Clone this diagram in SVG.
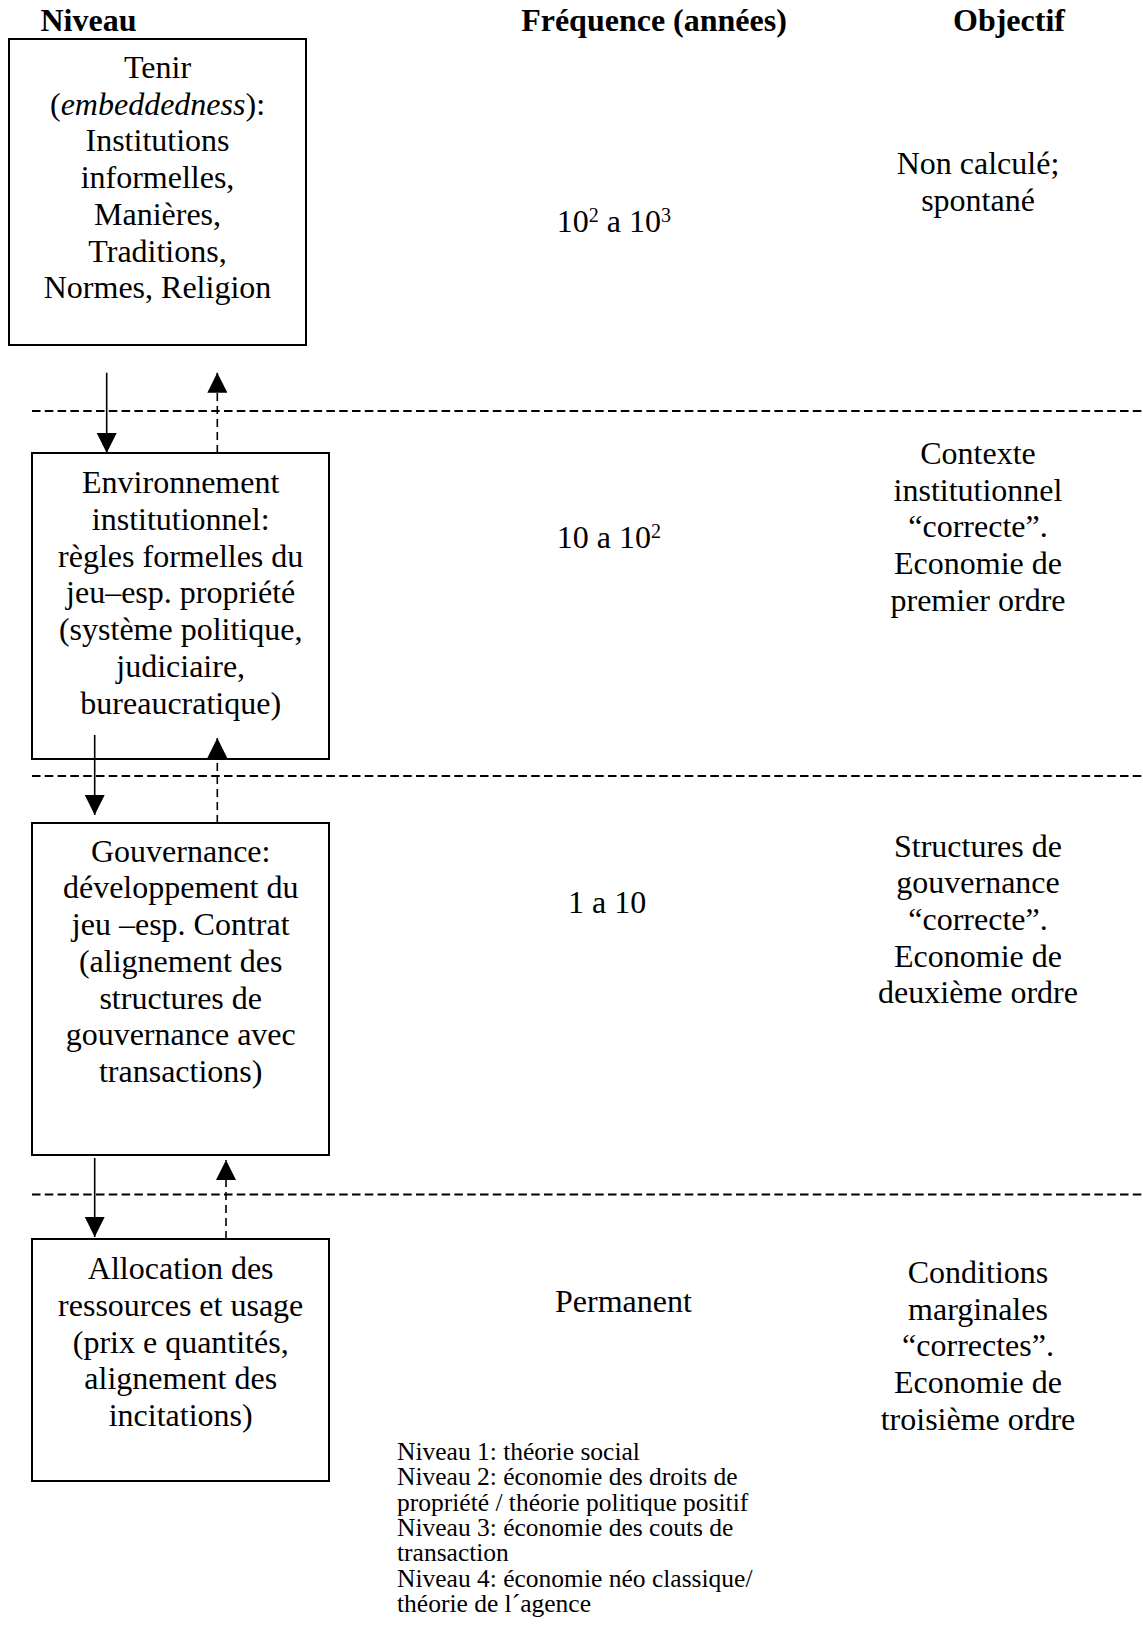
<svg xmlns="http://www.w3.org/2000/svg" width="1143" height="1652" viewBox="0 0 1143 1652">
<defs>
<style>
text{font-family:"Liberation Serif","Times New Roman",serif;fill:#000;}
.t{font-size:32px;text-anchor:middle;}
.h{font-size:32px;font-weight:bold;text-anchor:middle;}
.m{font-size:32px;}
.f{font-size:25.5px;}
.box{fill:#fff;stroke:#000;stroke-width:2;}
.sep{stroke:#000;stroke-width:2;stroke-dasharray:8.5 4.3;fill:none;}
.solid{stroke:#000;stroke-width:1.6;fill:none;}
.dash{stroke:#000;stroke-width:1.6;stroke-dasharray:8 5;fill:none;}
</style>
<marker id="ah" markerUnits="userSpaceOnUse" markerWidth="20" markerHeight="20" refX="20" refY="10" orient="auto" viewBox="0 0 20 20">
<path d="M0,0 L20,10 L0,20 z" fill="#000"/>
</marker>
</defs>
<rect width="1143" height="1652" fill="#fff"/>

<g id="headers">
<text class="h" x="88.5" y="31">Niveau</text>
<text class="h" x="654" y="31">Fréquence (années)</text>
<text class="h" x="1009" y="31">Objectif</text>
</g>

<g id="separators">
<line class="sep" x1="32" y1="411" x2="1143" y2="411"/>
<line class="sep" x1="32" y1="776" x2="1143" y2="776"/>
<line class="sep" x1="32" y1="1194.5" x2="1143" y2="1194.5"/>
</g>

<g id="node-niveau1">
<rect class="box" x="9" y="39" width="297" height="306"/>
<text class="t" x="157.5" y="78">Tenir</text>
<text class="t" x="157.5" y="114.7">(<tspan font-style="italic">embeddedness</tspan>):</text>
<text class="t" x="157.5" y="151.4">Institutions</text>
<text class="t" x="157.5" y="188.1">informelles,</text>
<text class="t" x="157.5" y="224.8">Manières,</text>
<text class="t" x="157.5" y="261.5">Traditions,</text>
<text class="t" x="157.5" y="298.2">Normes, Religion</text>
</g>

<g id="node-niveau2">
<rect class="box" x="32" y="453" width="297" height="306"/>
<text class="t" x="180.7" y="493.3">Environnement</text>
<text class="t" x="180.7" y="530">institutionnel:</text>
<text class="t" x="180.7" y="566.7">règles formelles du</text>
<text class="t" x="180.7" y="603.4">jeu–esp. propriété</text>
<text class="t" x="180.7" y="640.1">(système politique,</text>
<text class="t" x="180.7" y="676.8">judiciaire,</text>
<text class="t" x="180.7" y="713.5">bureaucratique)</text>
</g>

<g id="node-niveau3">
<rect class="box" x="32" y="823" width="297" height="332"/>
<text class="t" x="180.7" y="861.7">Gouvernance:</text>
<text class="t" x="180.7" y="898.4">développement du</text>
<text class="t" x="180.7" y="935.1">jeu –esp. Contrat</text>
<text class="t" x="180.7" y="971.8">(alignement des</text>
<text class="t" x="180.7" y="1008.5">structures de</text>
<text class="t" x="180.7" y="1045.2">gouvernance avec</text>
<text class="t" x="180.7" y="1081.9">transactions)</text>
</g>

<g id="node-niveau4">
<rect class="box" x="32" y="1239" width="297" height="242"/>
<text class="t" x="180.7" y="1279.3">Allocation des</text>
<text class="t" x="180.7" y="1316">ressources et usage</text>
<text class="t" x="180.7" y="1352.7">(prix e quantités,</text>
<text class="t" x="180.7" y="1389.4">alignement des</text>
<text class="t" x="180.7" y="1426.1">incitations)</text>
</g>

<g id="frequence">
<text class="m" x="556.7" y="232">10<tspan dy="-10" font-size="20">2</tspan><tspan dy="10"> a 10</tspan><tspan dy="-10" font-size="20">3</tspan></text>
<text class="m" x="556.7" y="548">10 a 10<tspan dy="-10" font-size="20">2</tspan></text>
<text class="m" x="568" y="913">1 a 10</text>
<text class="m" x="555" y="1312">Permanent</text>
</g>

<g id="objectif">
<text class="t" x="978" y="174">Non calculé;</text>
<text class="t" x="978" y="210.7">spontané</text>
<text class="t" x="978" y="464">Contexte</text>
<text class="t" x="978" y="500.7">institutionnel</text>
<text class="t" x="978" y="537.4">“correcte”.</text>
<text class="t" x="978" y="574.1">Economie de</text>
<text class="t" x="978" y="610.8">premier ordre</text>
<text class="t" x="978" y="856.5">Structures de</text>
<text class="t" x="978" y="893.2">gouvernance</text>
<text class="t" x="978" y="929.9">“correcte”.</text>
<text class="t" x="978" y="966.6">Economie de</text>
<text class="t" x="978" y="1003.3">deuxième ordre</text>
<text class="t" x="978" y="1283">Conditions</text>
<text class="t" x="978" y="1319.7">marginales</text>
<text class="t" x="978" y="1356.4">“correctes”.</text>
<text class="t" x="978" y="1393.1">Economie de</text>
<text class="t" x="978" y="1429.8">troisième ordre</text>
</g>

<g id="legende">
<text class="f" x="397" y="1460">Niveau 1: théorie social</text>
<text class="f" x="397" y="1485.3">Niveau 2: économie des droits de</text>
<text class="f" x="397" y="1510.6">propriété / théorie politique positif</text>
<text class="f" x="397" y="1535.9">Niveau 3: économie des couts de</text>
<text class="f" x="397" y="1561.2">transaction</text>
<text class="f" x="397" y="1586.5">Niveau 4: économie néo classique/</text>
<text class="f" x="397" y="1611.8">théorie de l´agence</text>
</g>

<g id="connectors">
<line class="solid" x1="106.7" y1="372.7" x2="106.7" y2="453" marker-end="url(#ah)"/>
<line class="dash" x1="217.3" y1="453" x2="217.3" y2="372.7" marker-end="url(#ah)"/>
<line class="solid" x1="94.7" y1="735" x2="94.7" y2="815" marker-end="url(#ah)"/>
<line class="dash" x1="217.3" y1="823" x2="217.3" y2="738" marker-end="url(#ah)"/>
<line class="solid" x1="94.7" y1="1158" x2="94.7" y2="1237" marker-end="url(#ah)"/>
<line class="dash" x1="226" y1="1239" x2="226" y2="1160" marker-end="url(#ah)"/>
</g>
</svg>
